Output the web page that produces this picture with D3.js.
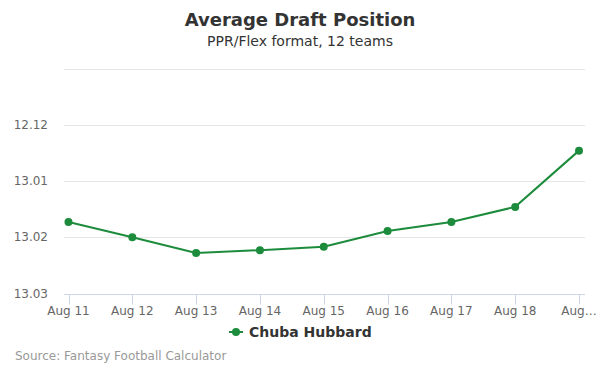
<!DOCTYPE html>
<html>
<head>
<meta charset="utf-8">
<script src="https://cdn.jsdelivr.net/npm/d3@7"></script>
<style>
  body { margin: 0; background: #fff; }
  svg { font-family: "DejaVu Sans", sans-serif; }
</style>
</head>
<body>
<div id="chart"></div>
<script>
// chart data: ADP as overall pick number (12 teams)
var dates = ["Aug 11", "Aug 12", "Aug 13", "Aug 14", "Aug 15", "Aug 16", "Aug 17", "Aug 18", "Aug 19"];
var tickLabels = ["Aug 11", "Aug 12", "Aug 13", "Aug 14", "Aug 15", "Aug 16", "Aug 17", "Aug 18", "Aug\u2026"];
var adp = [145.73, 146.0, 146.28, 146.23, 146.17, 145.89, 145.73, 145.46, 144.46];
var yTicks = [143, 144, 145, 146, 147];
var seriesName = "Chuba Hubbard";
var teams = 12;

var width = 600, height = 375;
var color = "#1c8c3c";

var svg = d3.select("#chart")
    .append("svg")
    .attr("width", width)
    .attr("height", height);

// pick number -> "round.pick"
function roundPick(p) {
    var round = Math.ceil(p / teams);
    var pick = p - (round - 1) * teams;
    return round + "." + (pick < 10 ? "0" : "") + pick;
}

var x = d3.scalePoint()
    .domain(dates)
    .range([68.5, 579]);

// reversed: lower pick at the top
var y = d3.scaleLinear()
    .domain([143, 147])
    .range([68.5, 293.5]);

// title
svg.append("text")
    .attr("x", width / 2)
    .attr("y", 26)
    .attr("text-anchor", "middle")
    .style("font-size", "18px")
    .style("font-weight", "bold")
    .style("fill", "#333333")
    .text("Average Draft Position");

svg.append("text")
    .attr("x", width / 2)
    .attr("y", 46)
    .attr("text-anchor", "middle")
    .style("font-size", "14px")
    .style("fill", "#333333")
    .text("PPR/Flex format, 12 teams");

// grid lines
svg.append("g")
    .selectAll("line")
    .data(yTicks.slice(0, -1))
    .enter()
    .append("line")
    .attr("x1", 64)
    .attr("x2", 585)
    .attr("y1", function (d) { return Math.round(y(d)) + 0.5; })
    .attr("y2", function (d) { return Math.round(y(d)) + 0.5; })
    .attr("stroke", "#e6e6e6")
    .attr("stroke-width", 1);

// y labels (top one hidden like the original)
svg.append("g")
    .selectAll("text")
    .data(yTicks.slice(1))
    .enter()
    .append("text")
    .attr("x", 48)
    .attr("y", function (d) { return y(d) + 4; })
    .attr("text-anchor", "end")
    .style("font-size", "12px")
    .style("fill", "#666666")
    .text(function (d) { return roundPick(d); });

// x axis
var xAxis = svg.append("g")
    .attr("transform", "translate(0," + (Math.round(y(147)) + 0.5) + ")");
xAxis.append("line")
    .attr("x1", 64)
    .attr("x2", 585)
    .attr("stroke", "#ccd6eb");
xAxis.selectAll(".tick")
    .data(dates)
    .enter()
    .append("line")
    .attr("x1", function (d) { return Math.round(x(d)) + 0.5; })
    .attr("x2", function (d) { return Math.round(x(d)) + 0.5; })
    .attr("y1", 0)
    .attr("y2", 10)
    .attr("stroke", "#ccd6eb");
xAxis.selectAll(".lbl")
    .data(dates)
    .enter()
    .append("text")
    .attr("x", function (d) { return x(d); })
    .attr("y", 20)
    .attr("text-anchor", "middle")
    .style("font-size", "12px")
    .style("fill", "#666666")
    .text(function (d, i) { return tickLabels[i]; });

// line
var line = d3.line()
    .x(function (d, i) { return x(dates[i]); })
    .y(function (d) { return y(d); });

svg.append("path")
    .datum(adp)
    .attr("fill", "none")
    .attr("stroke", color)
    .attr("stroke-width", 2)
    .attr("d", line);

svg.append("g")
    .selectAll("circle")
    .data(adp)
    .enter()
    .append("circle")
    .attr("cx", function (d, i) { return x(dates[i]); })
    .attr("cy", function (d) { return y(d); })
    .attr("r", 4)
    .attr("fill", color);

// legend
var legend = svg.append("g").attr("transform", "translate(229,332)");
legend.append("line")
    .attr("x1", 0).attr("x2", 14)
    .attr("stroke", color).attr("stroke-width", 2);
legend.append("circle")
    .attr("cx", 7).attr("r", 4).attr("fill", color);
legend.append("text")
    .attr("x", 20)
    .attr("y", 5)
    .style("font-size", "14px")
    .style("font-weight", "bold")
    .style("fill", "#333333")
    .text(seriesName);

// credits
svg.append("text")
    .attr("x", 15)
    .attr("y", 360)
    .style("font-size", "12px")
    .style("fill", "#999999")
    .text("Source: Fantasy Football Calculator");
</script>
</body>
</html>
